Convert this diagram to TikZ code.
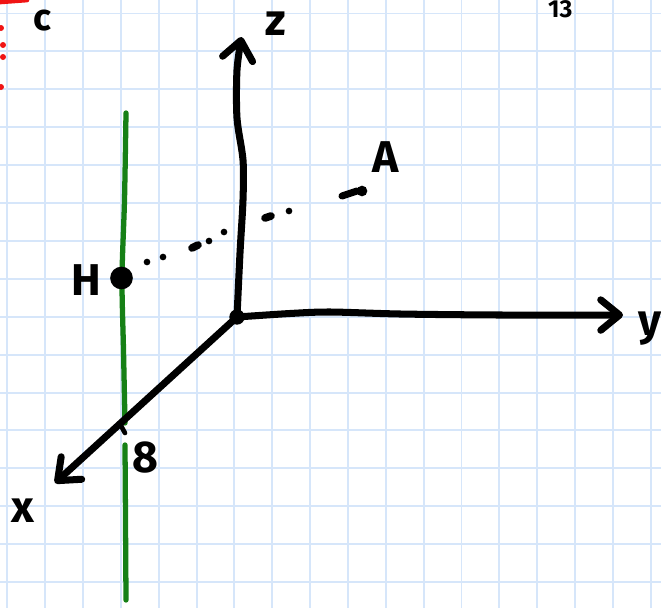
\documentclass[tikz,border=0pt]{standalone}
\usepackage{fontspec}
\setsansfont{Fira Sans}
\usetikzlibrary{arrows.meta}
\definecolor{gridblue}{RGB}{214,230,250}
\definecolor{penred}{RGB}{240,20,20}
\definecolor{pengreen}{RGB}{22,128,22}

\begin{document}
\begin{tikzpicture}[x=0.03cm, y=-0.03cm,
        >={Straight Barb[length=16pt, width=26pt, round]},
        pen/.style={line width=6pt, line cap=round, line join=round},
        gridline/.style={gridblue, line width=1.7pt},
        hand/.style={font=\sffamily\bfseries\fontsize{38}{38}\selectfont, inner sep=0pt, anchor=base west}]
        % Paper
        \fill[white] (0,0) rectangle (661,608);
        \useasboundingbox (0,0) rectangle (661,608);
        \clip (0,0) rectangle (661,608);
        \foreach \i in {0,...,17} \draw[gridline] ({7.3+37.85*\i},0) -- ({7.3+37.85*\i},608);
        \foreach \j in {0,...,15} \draw[gridline] (0,{13.5+37.9*\j}) -- (661,{13.5+37.9*\j});

        % Points
        \coordinate (O) at (237,317);
        \coordinate (H) at (121.5,278);
        \coordinate (A) at (362,191);
        \coordinate (ztip) at (241.5,37);
        \coordinate (ytip) at (623,315);
        \coordinate (xtip) at (55,483);

        % Green line
        \draw[pengreen, line width=4.5pt, line cap=round] plot[smooth] coordinates {(126,113) (124.5,200) (122,278) (123.5,350) (125,423)};
        \draw[pengreen, line width=4.5pt, line cap=round] plot[smooth] coordinates {(125,445) (125.5,520) (126,600)};

        % Axes
        \draw[pen, ->] plot[smooth] coordinates {(O) (240,253) (243,200) (243,160) (237,118) (237,70) (ztip)};
        \draw[pen, ->] plot[smooth] coordinates {(O) (290,313.5) (330,312) (400,314) (500,315) (ytip)};
        \draw[pen, ->] (O) -- (xtip);
        \draw[pen, line width=4pt] (120,424) -- (125,433);

        % Dots
        \fill (O) circle (0.23cm);
        \fill (H) circle (0.34cm);
        \fill (A) circle (0.16cm);
        \foreach \p in {(147,262),(163,257),(209,241),(224,232),(289,211)} \fill \p circle (0.1cm);
        \draw[pen, line width=6.5pt] (192,248) -- (198,245);
        \draw[pen, line width=6.5pt] (265,218) -- (271,216);
        \draw[pen] (342,196) -- (357,191);

        % Labels
        \node[hand] (Hlabel) at (71,295) {H};
        \node[hand] (Alabel) at (372,172) {A};
        \node[hand] (zlabel) at (265,35) {z};
        \node[hand] (ylabel) at (638,335) {y};
        \node[hand] (xlabel) at (11,522) {x};
        \node[hand] (eight) at (132,472) {8};
        \node[hand, font=\sffamily\bfseries\fontsize{32}{32}\selectfont] (clabel) at (33,30) {c};
        \node[hand, font=\sffamily\bfseries\fontsize{21}{21}\selectfont] (corner) at (548,17) {13};

        % Red marks
        \draw[penred, line width=4pt, line cap=round] (0,2) -- (27,0);
        \foreach \p in {(1,28),(3,45),(3,57),(1,87)} \fill[penred] \p circle (0.09cm);
    \end{tikzpicture}
\end{document}
